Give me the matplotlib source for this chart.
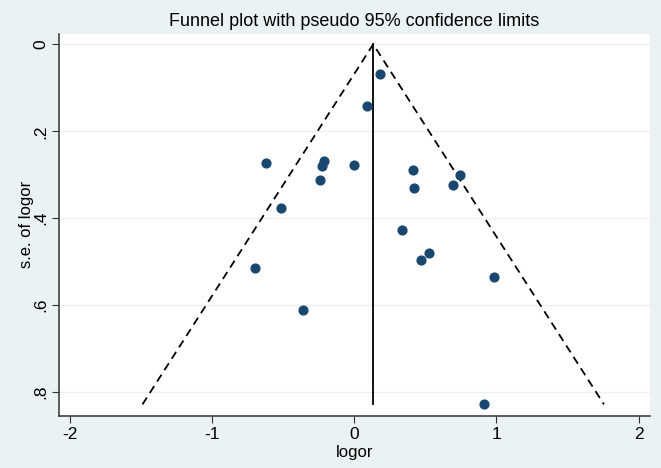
import numpy as np
import matplotlib.pyplot as plt

plt.rcParams['font.family'] = ['Liberation Sans', 'DejaVu Sans']
plt.rcParams['axes.unicode_minus'] = False

# study estimates (log odds ratio) and their standard errors
logor = [-0.623, -0.517, -0.216, -0.228, -0.242, 0.178, 0.091, -0.003,
         0.411, 0.418, 0.742, 0.692, 0.333, -0.697, -0.362, 0.467,
         0.526, 0.986, 0.911]
se_logor = [0.274, 0.376, 0.268, 0.281, 0.313, 0.068, 0.143, 0.277,
            0.290, 0.330, 0.300, 0.324, 0.428, 0.514, 0.612, 0.497,
            0.481, 0.536, 0.828]
pooled = 0.133
xticks = [-2, -1, 0, 1, 2]
yticks = [0, 0.2, 0.4, 0.6, 0.8]
ytick_labels = ['0', '.2', '.4', '.6', '.8']

bg = '#eaf2f3'
fig = plt.figure(figsize=(6.61, 4.68), dpi=100, facecolor=bg)
ax = fig.add_axes([0.0893, 0.1118, 0.8941, 0.8156])
ax.set_facecolor('white')

se_max = max(se_logor)
ax.plot([pooled - 1.96 * se_max, pooled, pooled + 1.96 * se_max],
        [se_max, 0, se_max], color='black', linestyle=(0, (4.5, 3)), lw=1.3)
ax.plot([pooled, pooled], [0, se_max], color='black', lw=1.3)
ax.scatter(logor, se_logor, s=40, color='#1a476f', zorder=3)

ax.set_xlim(-2.077, 2.08)
ax.set_ylim(0.854, -0.0237)
ax.set_xticks(xticks)
ax.set_yticks(yticks)
ax.set_yticklabels(ytick_labels, rotation=90, va='center')
ax.grid(axis='y', color=bg, lw=1)
ax.set_axisbelow(True)
for s in ['top', 'right']:
    ax.spines[s].set_visible(False)
for s in ['left', 'bottom']:
    ax.spines[s].set_color('#333333')
    ax.spines[s].set_linewidth(1.1)
ax.tick_params(labelsize=12.5, color='#333333', length=5, pad=3)

ax.set_xlabel('logor', fontsize=12, labelpad=2)
ax.set_ylabel('s.e. of logor', fontsize=12, labelpad=-1)
fig.text(0.536, 1 - 22 / 468, 'Funnel plot with pseudo 95% confidence limits',
         fontsize=13, ha='center', va='center')

plt.savefig('out.png', dpi=100, facecolor=bg)
